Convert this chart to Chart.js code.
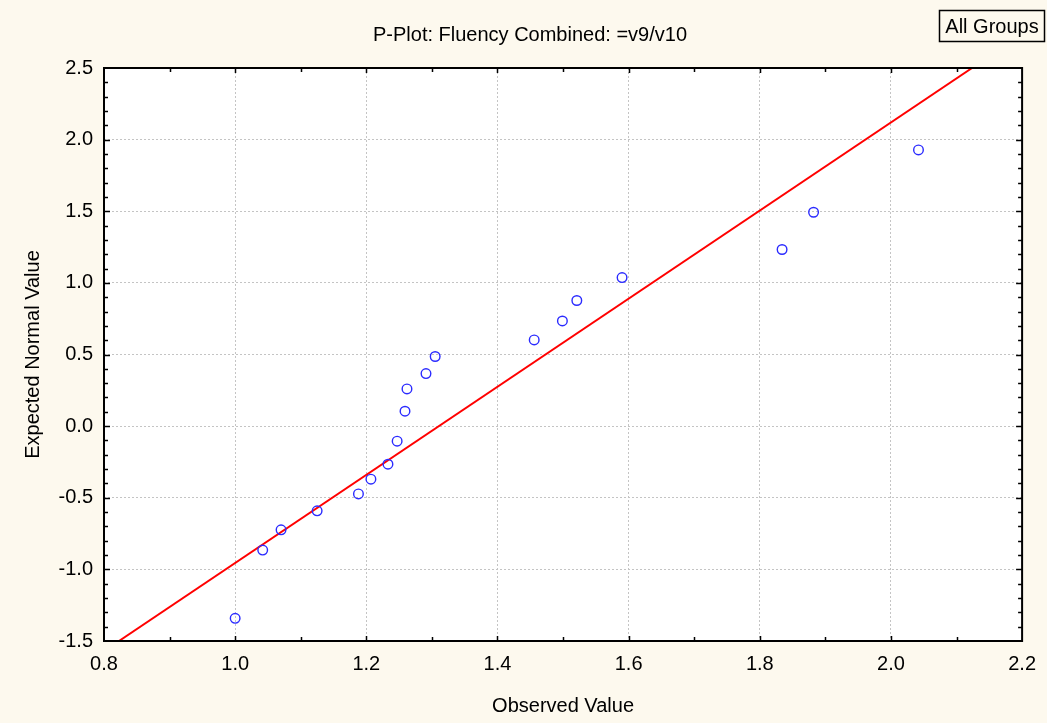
<!DOCTYPE html>
<html>
<head>
<meta charset="utf-8">
<script src="https://cdn.jsdelivr.net/npm/chart.js@4"></script>
<style>
html,body{margin:0;padding:0;background:#fdf9ee;}
#wrap{width:1047px;height:723px;}
</style>
</head>
<body>
<div id="wrap"><canvas id="c" width="1047" height="723"></canvas></div>
<script>
// Data
const observed = [1.000, 1.042, 1.070, 1.125, 1.188, 1.207, 1.233, 1.247, 1.259, 1.262, 1.291, 1.305, 1.456, 1.499, 1.521, 1.590, 1.834, 1.882, 2.042];
const expected = [-1.342, -0.865, -0.724, -0.591, -0.473, -0.370, -0.266, -0.105, 0.104, 0.260, 0.367, 0.486, 0.602, 0.734, 0.877, 1.037, 1.233, 1.493, 1.928];
const lineX = [0.8228, 2.1237];
const lineY = [-1.5, 2.5];
const xTickLabels = ['0.8', '1.0', '1.2', '1.4', '1.6', '1.8', '2.0', '2.2'];
const yTickLabels = ['-1.5', '-1.0', '-0.5', '0.0', '0.5', '1.0', '1.5', '2.0', '2.5'];
const titleText = 'P-Plot: Fluency Combined: =v9/v10';
const xTitle = 'Observed Value';
const yTitle = 'Expected Normal Value';
const legendText = 'All Groups';

const FONT = 'Liberation Sans, Arial, sans-serif';
const FS = 20;
const BG = '#fdf9ee';

const xMin = parseFloat(xTickLabels[0]), xMax = parseFloat(xTickLabels[xTickLabels.length - 1]);
const yMin = parseFloat(yTickLabels[0]), yMax = parseFloat(yTickLabels[yTickLabels.length - 1]);

const framePlugin = {
  id: 'frame',
  beforeDraw(chart) {
    const {ctx, chartArea: a} = chart;
    ctx.save();
    ctx.fillStyle = BG;
    ctx.fillRect(0, 0, chart.width, chart.height);
    ctx.fillStyle = '#ffffff';
    ctx.fillRect(a.left, a.top, a.right - a.left, a.bottom - a.top);
    ctx.restore();
  },
  afterDraw(chart) {
    const {ctx, chartArea: a} = chart;
    const xs = chart.scales.x, ys = chart.scales.y;
    ctx.save();
    ctx.strokeStyle = '#000';
    ctx.lineWidth = 2;
    ctx.strokeRect(a.left, a.top, a.right - a.left, a.bottom - a.top);
    ctx.lineWidth = 1.5;
    ctx.beginPath();
    // x ticks every 0.1 (major every 0.2)
    const nx = Math.round((xMax - xMin) / 0.1);
    for (let i = 1; i < nx; i++) {
      const px = Math.round(xs.getPixelForValue(xMin + i * 0.1)) + 0.5;
      const len = (i % 2 === 0) ? 5 : 4;
      ctx.moveTo(px, a.bottom); ctx.lineTo(px, a.bottom - len);
      ctx.moveTo(px, a.top); ctx.lineTo(px, a.top + len);
    }
    // y ticks every 0.1 (major every 0.5)
    const ny = Math.round((yMax - yMin) / 0.1);
    for (let i = 1; i < ny; i++) {
      const py = Math.round(ys.getPixelForValue(yMin + i * 0.1)) + 0.5;
      const len = (i % 5 === 0) ? 6 : 4;
      ctx.moveTo(a.left, py); ctx.lineTo(a.left + len, py);
      ctx.moveTo(a.right, py); ctx.lineTo(a.right - len, py);
    }
    ctx.stroke();
    ctx.font = FS + 'px ' + FONT;
    ctx.textBaseline = 'middle';
    ctx.textAlign = 'center';
    // chart title
    ctx.fillStyle = '#000';
    ctx.fillText(titleText, 530, 35);
    // legend box
    const bx = 939.5, by = 10.5, bw = 105, bh = 31;
    ctx.fillStyle = BG;
    ctx.fillRect(bx, by, bw, bh);
    ctx.lineWidth = 1.5;
    ctx.strokeStyle = '#000';
    ctx.strokeRect(bx, by, bw, bh);
    ctx.fillStyle = '#000';
    ctx.fillText(legendText, bx + bw / 2, by + bh / 2 + 1);
    ctx.restore();
  }
};

new Chart(document.getElementById('c'), {
  type: 'scatter',
  data: {
    datasets: [
      {
        label: 'Observed',
        data: observed.map((v, i) => ({x: v, y: expected[i]})),
        pointStyle: 'circle',
        pointRadius: 4.8,
        pointHoverRadius: 4.8,
        borderColor: '#2b2bff',
        backgroundColor: 'rgba(0,0,0,0)',
        borderWidth: 1.4,
        showLine: false
      },
      {
        label: 'Fit',
        data: lineX.map((v, i) => ({x: v, y: lineY[i]})),
        showLine: true,
        borderColor: '#ff0000',
        borderWidth: 2,
        pointRadius: 0,
        fill: false
      }
    ]
  },
  options: {
    responsive: false,
    animation: false,
    layout: {padding: {left: 0, right: 21, top: 68, bottom: 0}},
    plugins: {
      legend: {display: false},
      tooltip: {enabled: false},
      title: {display: false}
    },
    scales: {
      x: {
        type: 'linear',
        min: xMin, max: xMax,
        afterFit: s => { s.height = 82; },
        border: {display: false, dash: [2, 2]},
        grid: {color: '#c4c4c4', lineWidth: 1, drawTicks: false},
        ticks: {
          stepSize: 0.2,
          padding: 11,
          color: '#000',
          font: {family: FONT, size: FS},
          callback: v => (Math.round(v * 10) / 10).toFixed(1)
        },
        title: {
          display: true, text: xTitle, color: '#000',
          font: {family: FONT, size: FS, lineHeight: 1.2},
          padding: {top: 0, bottom: 5}
        }
      },
      y: {
        type: 'linear',
        min: yMin, max: yMax,
        afterFit: s => { s.width = 104; },
        border: {display: false, dash: [2, 2]},
        grid: {color: '#c4c4c4', lineWidth: 1, drawTicks: false},
        ticks: {
          stepSize: 0.5,
          padding: 11,
          color: '#000',
          font: {family: FONT, size: FS},
          callback: v => (Math.round(v * 10) / 10).toFixed(1)
        },
        title: {
          display: true, text: yTitle, color: '#000',
          font: {family: FONT, size: FS, lineHeight: 1.2},
          padding: {top: 21, bottom: 0}
        }
      }
    }
  },
  plugins: [framePlugin]
});
</script>
</body>
</html>
